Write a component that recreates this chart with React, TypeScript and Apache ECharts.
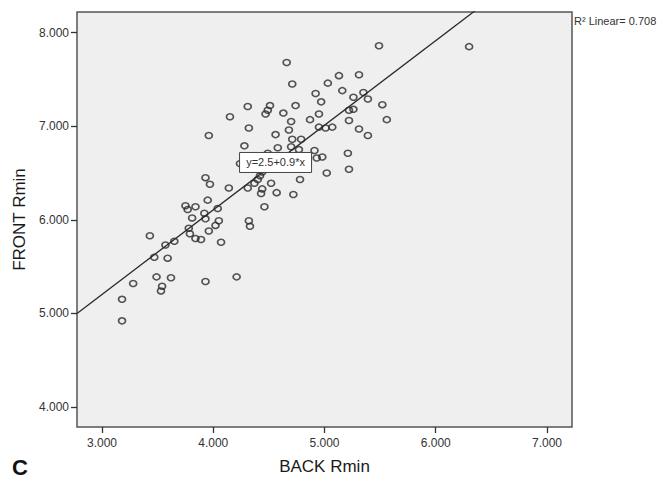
import React, { useEffect, useRef } from "react";
import * as echarts from "echarts";

const backRmin = [
  3.93, 3.97, 4.14, 4.31, 4.52, 4.57, 4.43, 4.44, 4.46, 3.75,
  3.77, 3.84, 3.95, 4.04, 3.92, 3.93, 3.81, 4.05, 4.02, 3.96,
  3.78, 3.79, 3.84, 3.89, 4.07, 3.65, 3.57, 3.43, 3.47, 3.59,
  4.32, 4.33, 3.49, 3.62, 3.28, 3.54, 3.53, 3.93, 4.21, 3.18,
  3.18, 5.49, 4.66, 5.13, 5.31, 5.03, 4.71, 5.16, 4.92, 4.97,
  5.35, 5.26, 5.39, 5.52, 5.56, 4.31, 4.51, 4.49, 4.47, 4.15,
  4.63, 4.74, 4.95, 4.87, 5.22, 5.26, 5.22, 4.70, 4.68, 4.32,
  4.95, 5.01, 5.07, 5.31, 5.39, 3.96, 4.56, 4.71, 4.79, 4.28,
  4.58, 4.70, 4.77, 4.49, 4.91, 4.93, 4.98, 5.21, 5.22, 5.02,
  4.78, 4.72, 4.37, 4.40, 4.42, 4.44, 4.24, 6.30,
];
const frontRmin = [
  6.45, 6.38, 6.34, 6.34, 6.39, 6.29, 6.28, 6.33, 6.14, 6.15,
  6.11, 6.14, 6.21, 6.12, 6.07, 6.01, 6.02, 5.99, 5.94, 5.88,
  5.91, 5.85, 5.80, 5.79, 5.76, 5.77, 5.73, 5.83, 5.60, 5.59,
  5.99, 5.93, 5.39, 5.38, 5.32, 5.29, 5.24, 5.34, 5.39, 5.15,
  4.92, 7.86, 7.68, 7.54, 7.55, 7.46, 7.45, 7.38, 7.35, 7.26,
  7.36, 7.31, 7.29, 7.23, 7.07, 7.21, 7.22, 7.17, 7.13, 7.10,
  7.14, 7.22, 7.13, 7.07, 7.17, 7.18, 7.06, 7.05, 6.96, 6.98,
  6.99, 6.98, 6.99, 6.97, 6.90, 6.90, 6.91, 6.86, 6.86, 6.79,
  6.77, 6.78, 6.75, 6.71, 6.74, 6.66, 6.67, 6.71, 6.54, 6.50,
  6.43, 6.27, 6.39, 6.43, 6.47, 6.51, 6.60, 7.85,
];

const xTicks = [3, 4, 5, 6, 7];
const yTicks = [4, 5, 6, 7, 8];
const xRange = [2.775, 7.225];
const yRange = [3.786, 8.22];

const fitIntercept = 2.49;
const fitSlope = 0.904;
const equationText = "y=2.5+0.9*x";
const equationAnchorX = 4.56;
const r2Text = "R\u00b2 Linear= 0.708";

const FONT = 'Arial, "Liberation Sans", Helvetica, sans-serif';

export default function App() {
  const ref = useRef<HTMLDivElement>(null);

  useEffect(() => {
    if (!ref.current) return;
    const chart = echarts.init(ref.current, undefined, { renderer: "svg" });
    const points = backRmin.map((x, i) => [x, frontRmin[i]]);
    const fit = (x: number) => fitIntercept + fitSlope * x;
    const lineData = [
      [xRange[0], fit(xRange[0])],
      [xRange[1], fit(xRange[1])],
    ];

    chart.setOption({
      animation: false,
      backgroundColor: "#ffffff",
      textStyle: { fontFamily: FONT },
      grid: {
        left: 77,
        top: 12,
        right: 87,
        bottom: 55,
        show: true,
        backgroundColor: "#efefef",
        borderColor: "#555555",
        borderWidth: 1.5,
      },
      xAxis: {
        type: "value",
        min: xRange[0],
        max: xRange[1],
        name: "BACK Rmin",
        nameLocation: "middle",
        nameGap: 31,
        nameTextStyle: { fontSize: 17, color: "#1a1a1a", fontFamily: FONT },
        axisLine: { show: false },
        splitLine: { show: false },
        axisTick: {
          show: true,
          length: 6,
          customValues: xTicks,
          lineStyle: { color: "#333", width: 1.3 },
        },
        axisLabel: {
          customValues: xTicks,
          margin: 10,
          fontSize: 12,
          color: "#333",
          fontFamily: FONT,
          formatter: (v: number) => v.toFixed(3),
        },
      },
      yAxis: {
        type: "value",
        min: yRange[0],
        max: yRange[1],
        name: "FRONT Rmin",
        nameLocation: "middle",
        nameGap: 46,
        nameTextStyle: { fontSize: 17, color: "#1a1a1a", fontFamily: FONT },
        axisLine: { show: false },
        splitLine: { show: false },
        axisTick: {
          show: true,
          length: 6,
          customValues: yTicks,
          lineStyle: { color: "#333", width: 1.3 },
        },
        axisLabel: {
          customValues: yTicks,
          margin: 8,
          fontSize: 12,
          color: "#333",
          fontFamily: FONT,
          formatter: (v: number) => v.toFixed(3),
        },
      },
      series: [
        {
          type: "line",
          data: lineData,
          symbol: "none",
          clip: true,
          lineStyle: { color: "#2a2a2a", width: 1.3 },
          silent: true,
          z: 2,
        },
        {
          type: "scatter",
          data: points,
          symbol: "circle",
          symbolSize: [7, 6],
          itemStyle: {
            color: "rgba(0,0,0,0)",
            borderColor: "#2a2a2a",
            borderWidth: 1.6,
          },
          z: 3,
        },
      ],
    });

    const anchor = chart.convertToPixel({ gridIndex: 0 }, [
      equationAnchorX,
      fit(equationAnchorX),
    ]) as number[];

    chart.setOption({
      graphic: [
        {
          type: "group",
          x: anchor[0],
          y: anchor[1],
          z: 100,
          children: [
            {
              type: "rect",
              z: 100,
              shape: { x: -36, y: -10, width: 72, height: 20 },
              style: { fill: "#ffffff", stroke: "#444", lineWidth: 1 },
            },
            {
              type: "text",
              z: 101,
              x: 0,
              y: 0,
              style: {
                text: equationText,
                fontSize: 11,
                fontFamily: FONT,
                fill: "#333",
                align: "center",
                verticalAlign: "middle",
              },
            },
          ],
        },
        {
          type: "text",
          left: 574,
          top: 15,
          style: {
            text: r2Text,
            fontSize: 11,
            fontFamily: FONT,
            fill: "#333",
          },
        },
        {
          type: "text",
          left: 12,
          top: 456,
          style: {
            text: "C",
            fontSize: 22,
            fontWeight: "bold",
            fontFamily: FONT,
            fill: "#111",
          },
        },
      ],
    });

    return () => chart.dispose();
  }, []);

  return (
    <div
      ref={ref}
      style={{ position: "absolute", left: 0, top: 0, width: 659, height: 482 }}
    />
  );
}
